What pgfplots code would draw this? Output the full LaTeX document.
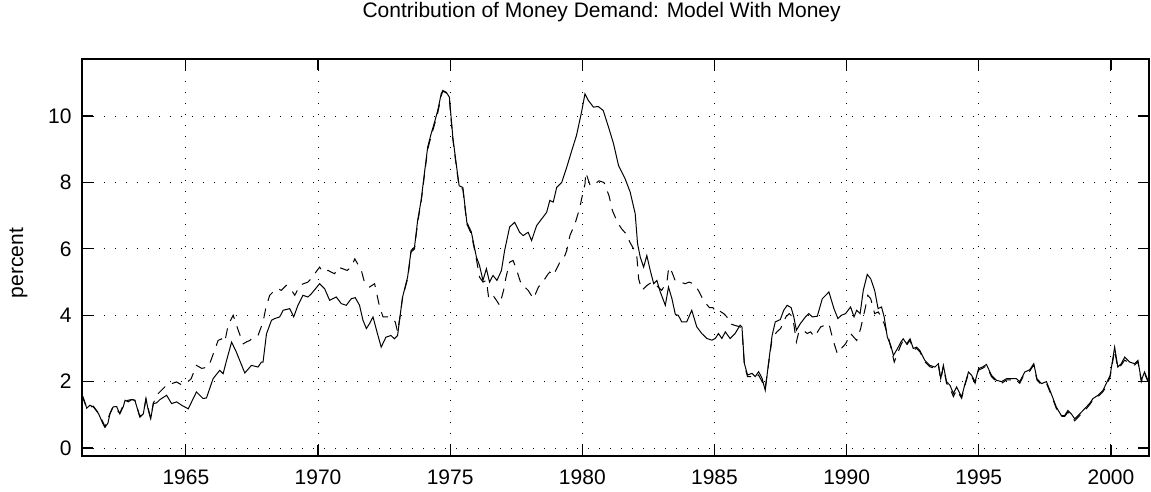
\documentclass[border=0pt]{standalone}
\usepackage{pgfplots}
\pgfplotsset{compat=1.18}
\usepackage{fontspec}
\setmainfont{Liberation Sans}
\begin{document}
\begin{tikzpicture}
\begin{axis}[
  at={(0,0)}, anchor=south west,
  scale only axis,
  width=533.5pt, height=198.5pt,
  xmin=1961.07, xmax=2001.44,
  ymin=-0.24, ymax=11.72,
  xtick={1965,1970,1975,1980,1985,1990,1995,2000},
  ytick={0,2,4,6,8,10},
  /pgf/number format/1000 sep={},
  /pgf/number format/assume math mode=true,
  tick label style={font=\fontsize{10.5}{12}\selectfont},
  xticklabel style={anchor=base, yshift=-14.5pt},
  yticklabel style={anchor=east, inner sep=0pt, xshift=-5pt},
  tick align=inside,
  major tick length=5.5pt,
  every tick/.style={black, line width=0.6pt},
  axis line style={black, line width=0.7pt},
  grid=major,
  major grid style={black, line width=0.5pt, dash pattern=on 0.5pt off 5pt},
  title={Contribution of Money Demand: Model With Money},
  title style={at={(axis description cs:0.487,1)}, anchor=base, yshift=14.5pt, font=\fontsize{10.5}{12}\selectfont},
  ylabel={percent},
  ylabel style={at={(axis description cs:-0.0595,0.486)}, anchor=center, font=\fontsize{10.5}{12}\selectfont},
]
\addplot[black, line width=0.5pt, dash pattern=on 5pt off 4pt] coordinates {
(1961.07,1.58) (1961.25,1.20) (1961.50,1.26) (1961.70,1.05) (1961.94,0.65) (1962.13,1.05)
(1962.25,1.26) (1962.50,1.05) (1962.70,1.42) (1962.95,1.46) (1963.07,1.44) (1963.26,0.95)
(1963.39,1.05) (1963.49,1.47) (1963.67,0.90) (1963.77,1.36) (1963.95,1.64) (1964.33,1.94)
(1964.50,1.95) (1964.65,1.99) (1964.80,1.92) (1965.00,1.94) (1965.20,2.09) (1965.40,2.49)
(1965.60,2.40) (1965.85,2.44) (1965.97,2.69) (1966.22,3.24) (1966.35,3.29) (1966.47,3.19)
(1966.60,3.70) (1966.79,4.00) (1966.98,3.55) (1967.17,3.14) (1967.30,3.20) (1967.42,3.24)
(1967.54,3.34) (1967.73,3.39) (1967.92,3.80) (1968.02,4.20) (1968.17,4.60) (1968.36,4.75)
(1968.49,4.80) (1968.61,4.75) (1968.80,4.90) (1969.00,4.75) (1969.12,4.60) (1969.31,4.90)
(1969.45,4.95) (1969.62,5.00) (1969.79,5.15) (1969.92,5.30) (1970.06,5.45) (1970.19,5.30)
(1970.38,5.35) (1970.50,5.30) (1970.63,5.25) (1970.75,5.45) (1970.94,5.40) (1971.10,5.35)
(1971.26,5.45) (1971.39,5.70) (1971.64,5.35) (1971.77,4.95) (1971.95,4.85) (1972.14,4.95)
(1972.33,4.25) (1972.46,3.95) (1972.64,3.95) (1972.83,3.90) (1972.92,3.80) (1973.01,3.50)
(1973.10,3.95) (1973.20,4.55) (1973.39,5.10) (1973.52,5.90) (1973.65,6.00) (1973.77,6.80)
(1973.90,7.40) (1974.03,8.25) (1974.15,9.00) (1974.28,9.40) (1974.41,9.75) (1974.53,10.10)
(1974.66,10.60) (1974.72,10.75) (1974.85,10.70) (1974.97,10.50) (1975.10,9.30) (1975.23,8.50)
(1975.34,7.85) (1975.48,7.80) (1975.63,6.75) (1975.80,6.45) (1975.99,5.70) (1976.11,5.15)
(1976.24,5.00) (1976.37,5.05) (1976.46,4.50) (1976.62,4.60) (1976.75,4.45) (1976.87,4.30)
(1977.02,4.75) (1977.10,5.10) (1977.25,5.60) (1977.38,5.65) (1977.50,5.40) (1977.70,4.90)
(1977.82,4.85) (1977.95,4.75) (1978.15,4.50) (1978.34,4.85) (1978.50,5.00) (1978.71,5.25)
(1978.77,5.30) (1978.90,5.20) (1979.15,5.60) (1979.34,5.80) (1979.41,5.95) (1979.53,6.40)
(1979.72,6.75) (1979.91,7.25) (1979.97,7.50) (1980.10,7.95) (1980.13,8.30) (1980.30,7.90)
(1980.47,7.95) (1980.63,8.05) (1980.82,8.00) (1981.01,7.60) (1981.14,7.15) (1981.33,6.80)
(1981.49,6.60) (1981.66,6.45) (1981.80,6.20) (1981.94,6.00) (1982.06,5.80) (1982.13,5.10)
(1982.25,4.75) (1982.45,4.90) (1982.63,5.00) (1982.80,4.90) (1983.00,4.75) (1983.20,5.00)
(1983.27,5.45) (1983.39,5.30) (1983.51,5.05) (1983.72,5.00) (1983.89,4.95) (1984.04,5.00)
(1984.20,4.95) (1984.39,4.75) (1984.55,4.50) (1984.68,4.35) (1984.81,4.23) (1984.94,4.23)
(1985.03,4.13) (1985.09,4.18) (1985.19,4.13) (1985.35,4.05) (1985.47,3.95) (1985.57,3.75)
(1985.75,3.70) (1985.97,3.65) (1986.04,3.60) (1986.13,2.50) (1986.25,2.15) (1986.42,2.15)
(1986.54,2.10) (1986.67,2.20) (1986.80,2.00) (1986.92,1.80) (1987.05,2.55) (1987.18,3.30)
(1987.36,3.50) (1987.50,3.60) (1987.70,3.95) (1987.83,4.05) (1987.96,3.95) (1988.10,3.20)
(1988.19,3.50) (1988.35,3.55) (1988.51,3.45) (1988.64,3.50) (1988.77,3.35) (1988.90,3.50)
(1989.02,3.65) (1989.18,3.70) (1989.33,3.75) (1989.49,3.24) (1989.65,2.84) (1989.80,3.00)
(1989.96,3.14) (1990.15,3.45) (1990.38,3.24) (1990.53,3.60) (1990.70,4.20) (1990.80,4.60)
(1990.91,4.50) (1991.06,4.05) (1991.20,4.10) (1991.29,3.95) (1991.42,3.75) (1991.61,3.24)
(1991.80,2.59) (1991.92,2.84) (1992.05,3.10) (1992.14,3.25) (1992.27,3.10) (1992.40,3.25)
(1992.52,2.95) (1992.65,3.00) (1992.77,2.90) (1992.96,2.60) (1993.15,2.45) (1993.34,2.40)
(1993.47,2.50) (1993.56,2.05) (1993.66,2.45) (1993.78,1.95) (1993.91,1.80) (1994.04,1.55)
(1994.16,1.75) (1994.35,1.50) (1994.48,1.90) (1994.61,2.25) (1994.73,2.15) (1994.86,1.95)
(1994.99,2.35) (1995.14,2.40) (1995.29,2.48) (1995.48,2.15) (1995.67,2.00) (1995.86,1.95)
(1996.05,2.05) (1996.23,2.05) (1996.42,2.05) (1996.55,1.95) (1996.74,2.25) (1996.93,2.32)
(1997.08,2.50) (1997.20,2.05) (1997.37,1.90) (1997.56,1.95) (1997.74,1.60) (1997.93,1.20)
(1998.12,0.95) (1998.25,0.95) (1998.37,1.08) (1998.50,0.98) (1998.63,0.82) (1998.82,0.98)
(1999.00,1.12) (1999.19,1.30) (1999.32,1.45) (1999.51,1.55) (1999.70,1.70) (1999.82,1.85)
(1999.97,2.15) (2000.14,2.95) (2000.26,2.40) (2000.39,2.50) (2000.52,2.65) (2000.71,2.55)
(2000.90,2.50) (2001.02,2.60) (2001.15,2.00) (2001.27,2.25) (2001.40,2.00)
};
\addplot[black, line width=0.5pt] coordinates {
(1961.07,1.62) (1961.15,1.45) (1961.25,1.20) (1961.37,1.29) (1961.50,1.24) (1961.70,1.03)
(1961.85,0.75) (1961.94,0.62) (1962.05,0.75) (1962.13,1.03) (1962.25,1.24) (1962.38,1.25)
(1962.50,1.03) (1962.63,1.24) (1962.70,1.44) (1962.82,1.39) (1962.95,1.46) (1963.07,1.44)
(1963.26,0.93) (1963.39,1.03) (1963.49,1.49) (1963.58,1.13) (1963.67,0.88) (1963.77,1.34)
(1963.89,1.36) (1964.02,1.46) (1964.27,1.59) (1964.46,1.34) (1964.65,1.39) (1964.84,1.29)
(1965.09,1.18) (1965.40,1.69) (1965.65,1.49) (1965.78,1.51) (1966.03,2.09) (1966.28,2.34)
(1966.41,2.24) (1966.54,2.64) (1966.73,3.19) (1966.91,2.89) (1967.23,2.26) (1967.48,2.49)
(1967.73,2.44) (1967.86,2.59) (1967.92,2.59) (1968.05,3.44) (1968.24,3.85) (1968.36,3.90)
(1968.55,3.95) (1968.68,4.15) (1968.93,4.20) (1969.08,3.95) (1969.24,4.30) (1969.43,4.60)
(1969.62,4.55) (1969.75,4.65) (1970.06,4.95) (1970.25,4.80) (1970.44,4.45) (1970.69,4.55)
(1970.88,4.35) (1971.07,4.30) (1971.26,4.50) (1971.41,4.53) (1971.57,4.30) (1971.70,3.85)
(1971.83,3.60) (1971.95,3.75) (1972.08,3.95) (1972.23,3.50) (1972.39,3.04) (1972.57,3.34)
(1972.76,3.39) (1972.89,3.29) (1973.01,3.39) (1973.10,3.95) (1973.20,4.55) (1973.39,5.15)
(1973.52,5.95) (1973.65,6.05) (1973.77,6.86) (1973.90,7.46) (1974.03,8.31) (1974.15,9.07)
(1974.28,9.47) (1974.41,9.82) (1974.53,10.17) (1974.66,10.67) (1974.72,10.77) (1974.85,10.72)
(1974.97,10.57) (1975.10,9.37) (1975.23,8.55) (1975.34,7.90) (1975.48,7.85) (1975.63,6.80)
(1975.80,6.51) (1975.99,5.76) (1976.11,5.50) (1976.24,5.05) (1976.37,5.40) (1976.49,5.00)
(1976.62,5.20) (1976.77,5.05) (1976.94,5.35) (1977.06,5.95) (1977.25,6.66) (1977.44,6.80)
(1977.63,6.50) (1977.76,6.40) (1977.95,6.50) (1978.08,6.25) (1978.27,6.70) (1978.46,6.90)
(1978.65,7.10) (1978.77,7.46) (1978.90,7.41) (1979.03,7.85) (1979.22,8.00) (1979.41,8.46)
(1979.60,8.96) (1979.78,9.42) (1979.97,10.12) (1980.10,10.67) (1980.23,10.47) (1980.42,10.27)
(1980.60,10.29) (1980.79,10.17) (1980.99,9.67) (1981.18,9.17) (1981.37,8.51) (1981.62,8.11)
(1981.81,7.71) (1982.00,7.06) (1982.09,6.15) (1982.19,5.76) (1982.32,5.45) (1982.44,5.80)
(1982.57,5.35) (1982.70,4.95) (1982.82,5.05) (1982.95,4.70) (1983.14,4.30) (1983.26,4.85)
(1983.39,4.50) (1983.52,4.02) (1983.63,4.00) (1983.76,3.80) (1983.95,3.80) (1984.14,4.15)
(1984.33,3.65) (1984.52,3.45) (1984.71,3.30) (1984.90,3.25) (1985.03,3.30) (1985.15,3.45)
(1985.28,3.30) (1985.41,3.50) (1985.59,3.30) (1985.78,3.45) (1985.97,3.70) (1986.04,3.65)
(1986.13,2.55) (1986.25,2.20) (1986.42,2.25) (1986.54,2.15) (1986.67,2.30) (1986.80,2.10)
(1986.92,1.74) (1987.05,2.59) (1987.18,3.39) (1987.30,3.80) (1987.49,3.87) (1987.62,4.15)
(1987.75,4.30) (1987.90,4.23) (1988.00,3.95) (1988.10,3.55) (1988.25,3.75) (1988.44,3.95)
(1988.57,4.05) (1988.70,3.95) (1988.89,3.97) (1989.08,4.50) (1989.33,4.70) (1989.52,4.20)
(1989.67,3.90) (1989.80,4.00) (1989.96,4.05) (1990.15,4.25) (1990.28,3.95) (1990.38,4.15)
(1990.51,4.05) (1990.63,4.75) (1990.78,5.23) (1990.91,5.10) (1991.06,4.75) (1991.19,4.20)
(1991.32,4.25) (1991.42,3.95) (1991.54,3.34) (1991.67,3.09) (1991.77,2.79) (1991.92,2.99)
(1992.05,3.19) (1992.14,3.29) (1992.27,3.14) (1992.40,3.29) (1992.52,3.00) (1992.65,3.04)
(1992.77,2.94) (1992.96,2.64) (1993.15,2.49) (1993.34,2.44) (1993.47,2.54) (1993.56,2.09)
(1993.66,2.49) (1993.78,2.00) (1993.91,1.89) (1994.04,1.64) (1994.16,1.84) (1994.35,1.54)
(1994.48,1.94) (1994.61,2.29) (1994.73,2.19) (1994.86,2.00) (1994.99,2.39) (1995.14,2.44)
(1995.29,2.52) (1995.48,2.19) (1995.67,2.04) (1995.86,2.00) (1996.05,2.09) (1996.23,2.09)
(1996.42,2.09) (1996.55,2.00) (1996.74,2.29) (1996.93,2.36) (1997.08,2.54) (1997.20,2.09)
(1997.37,1.94) (1997.56,2.00) (1997.74,1.64) (1997.93,1.24) (1998.12,0.98) (1998.25,0.98)
(1998.37,1.13) (1998.50,1.03) (1998.63,0.88) (1998.82,1.03) (1999.00,1.18) (1999.19,1.34)
(1999.32,1.49) (1999.51,1.59) (1999.70,1.74) (1999.82,1.94) (1999.97,2.19) (2000.14,3.04)
(2000.26,2.44) (2000.39,2.54) (2000.52,2.74) (2000.71,2.59) (2000.90,2.54) (2001.02,2.64)
(2001.15,2.04) (2001.27,2.29) (2001.40,2.04)
};
\end{axis}
\pgfresetboundingbox
\useasboundingbox (-41pt,-18pt) rectangle (534.5pt,228pt);
\end{tikzpicture}
\end{document}
